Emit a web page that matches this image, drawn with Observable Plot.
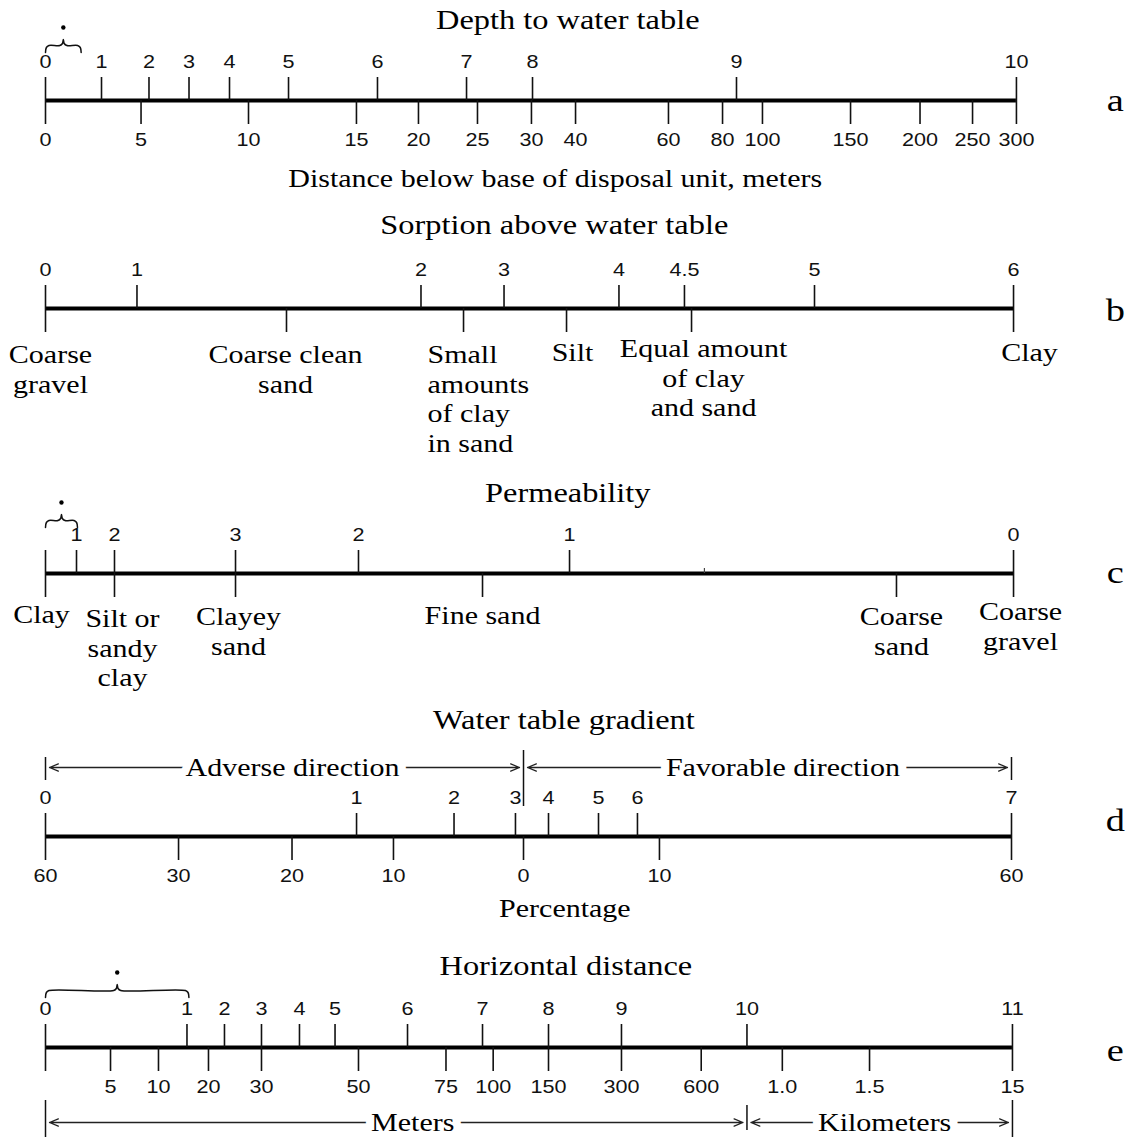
<!DOCTYPE html>
<html>
<head>
<meta charset="utf-8">
<script src="https://cdn.jsdelivr.net/npm/d3@7"></script>
<script src="https://cdn.jsdelivr.net/npm/@observablehq/plot@0.6"></script>
<style>
  html, body { margin: 0; padding: 0; background: #fff; }
  #chart svg { display: block; }
</style>
</head>
<body>
<div id="chart"></div>
<script>
// ---------------- DATA (positions read along each scale, 0 = left end, 100 = right end) ----------------
const panels = ["a", "b", "c", "d", "e"];
const titles = ["Depth to water table", "Sorption above water table", "Permeability", "Water table gradient", "Horizontal distance"];

// a: Depth to water table
const depthRatings = ["0", "1", "2", "3", "4", "5", "6", "7", "8", "9", "10"];
const depthRatingPos = [0, 5.78, 10.68, 14.81, 18.99, 25.08, 34.26, 43.45, 50.26, 71.31, 100.2];
const depthMeters = ["0", "5", "10", "15", "20", "25", "30", "40", "60", "80", "100", "150", "200", "250", "300"];
const depthMeterPos = [0, 9.86, 20.95, 32.09, 38.49, 44.58, 50.15, 54.7, 64.29, 69.87, 73.99, 83.08, 90.25, 95.67, 100.2];
const depthCaption = "Distance below base of disposal unit, meters";
const depthBrace = [0, 3.68];

// b: Sorption above water table
const sorptionRatings = ["0", "1", "2", "3", "4", "4.5", "5", "6"];
const sorptionRatingPos = [0, 9.44, 38.75, 47.32, 59.18, 65.94, 79.36, 99.9];
const sorptionMaterials = ["Coarse\ngravel", "Coarse clean\nsand", "Small\namounts\nof clay\nin sand", "Silt", "Equal amount\nof clay\nand sand", "Clay"];
const sorptionMaterialPos = [0, 24.87, 43.14, 53.77, 66.67, 99.9];

// c: Permeability
const permRatings = ["", "1", "2", "3", "2", "1", "0"];
const permRatingPos = [0, 3.2, 7.12, 19.61, 32.3, 54.08, 99.9];
const permMinorPos = [68.0];
const permMaterials = ["Clay", "Silt or\nsandy\nclay", "Clayey\nsand", "Fine sand", "Coarse\nsand", "Coarse\ngravel"];
const permMaterialPos = [0, 7.12, 19.61, 45.1, 87.82, 99.9];
const permBrace = [0, 3.3];

// d: Water table gradient
const gradientRatings = ["0", "1", "2", "3", "4", "5", "6", "7"];
const gradientRatingPos = [0, 32.1, 42.16, 48.5, 51.91, 57.07, 61.09, 99.69];
const gradientPercents = ["60", "30", "20", "10", "0", "10", "60"];
const gradientPercentPos = [0, 13.73, 25.44, 35.91, 49.33, 63.36, 99.69];
const gradientDirections = ["Adverse direction", "Favorable direction"];
const gradientSpans = [[0, 49.33], [49.33, 99.69]];
const gradientDirectionAt = [25.5, 76.1];
const gradientCaption = "Percentage";

// e: Horizontal distance
const distanceRatings = ["0", "1", "2", "3", "4", "5", "6", "7", "8", "9", "10", "11"];
const distanceRatingPos = [0, 14.6, 18.47, 22.29, 26.21, 29.88, 37.36, 45.1, 51.91, 59.44, 72.39, 99.79];
const distanceMarks = ["", "5", "10", "20", "30", "50", "75", "100", "150", "300", "600", "1.0", "1.5", "15"];
const distanceMarkPos = [0, 6.71, 11.66, 16.82, 22.29, 32.3, 41.33, 46.2, 51.91, 59.44, 67.67, 76.04, 85.04, 99.79];
const distanceUnits = ["Meters", "Kilometers"];
const distanceSpans = [[0, 72.39], [72.39, 99.79]];
const distanceUnitAt = [37.9, 86.6];
const distanceBrace = [0, 14.8];

// ---------------- LAYOUT & STYLE ----------------
const W = 1132, H = 1137;
const X0 = 45, X1 = 1014;              // pixel extent of the 0..100 scale
const pct = 100 / (X1 - X0);           // scale units per pixel (for small pixel nudges)
const SERIF = "Liberation Serif, Times New Roman, serif";
const SANS = "Liberation Sans, Arial, sans-serif";
const STRETCH = 1.2;                   // reference lettering is horizontally wide

const axisY = {a: 100, b: 308, c: 573, d: 836, e: 1047};
const titleY = {a: 20, b: 225, c: 493, d: 720, e: 966};
const titleX = {a: 53.9, b: 52.5, c: 53.9, d: 53.5, e: 53.7};
const letterY = {a: 100, b: 310, c: 572, d: 820, e: 1050};
const braceY = {a: 45, c: 520, e: 990};
const arrowY = {d: 767, e: 1122};
const materialTop = {b: 342, c: 603};
const captionY = {a: 178, d: 908};
const captionX = {a: 52.6, d: 53.6};
const TOP_TICK = 23, BOTTOM_TICK = 24, TOP_LABEL = 38, BOTTOM_LABEL = 40;
// label nudges [dx px, dy px, anchor]
const sorptionNudge = [[5, 0, "middle"], [-1, 0, "middle"], [-36, 0, "start"], [6, -2, "middle"], [12, -6, "middle"], [16, -2, "middle"]];
const permNudge = [[-4, -1, "middle"], [8, 3, "middle"], [3, 1, "middle"], [0, 0, "middle"], [5, 1, "middle"], [7, -4, "middle"]];

// ---------------- TABLES BUILT FROM THE ARRAYS ----------------
const topSets = {
  a: [depthRatings, depthRatingPos], b: [sorptionRatings, sorptionRatingPos],
  c: [permRatings, permRatingPos], d: [gradientRatings, gradientRatingPos],
  e: [distanceRatings, distanceRatingPos]
};
const topTicks = Object.entries(topSets).flatMap(([p, [labs, pos]]) => labs.map((label, i) => ({p, label, x: pos[i]})));

const numSets = {a: [depthMeters, depthMeterPos], d: [gradientPercents, gradientPercentPos], e: [distanceMarks, distanceMarkPos]};
const bottomNums = Object.entries(numSets).flatMap(([p, [labs, pos]]) => labs.map((label, i) => ({p, label, x: pos[i]})));

const matSets = {b: [sorptionMaterials, sorptionMaterialPos, sorptionNudge], c: [permMaterials, permMaterialPos, permNudge]};
const materials = Object.entries(matSets).flatMap(([p, [labs, pos, nudge]]) =>
  labs.map((label, i) => ({p, label, x: pos[i], dx: nudge[i][0], dy: nudge[i][1], anchor: nudge[i][2]})));

const bottomTicks = [...bottomNums, ...materials];
const axisEnd = {};
for (const p of panels) axisEnd[p] = d3.max(topTicks.filter(d => d.p === p), d => d.x);

// braces
const braces = [{p: "a", span: depthBrace}, {p: "c", span: permBrace}, {p: "e", span: distanceBrace}];
const bracePts = braces.flatMap(({p, span: [a, b]}) => {
  const y = braceY[p], e = 3.5 * pct, m = (a + b) / 2;
  return [[a, y + 7], [a + e * 0.25, y + 2], [a + e, y], [m - e, y], [m - e * 0.25, y - 2], [m, y - 6],
          [m + e * 0.25, y - 2], [m + e, y], [b - e, y], [b - e * 0.25, y + 2], [b, y + 7]].map(([x, yy]) => ({p, x, y: yy}));
});

// direction / unit arrows
const arrowSets = [
  {p: "d", names: gradientDirections, spans: gradientSpans, at: gradientDirectionAt},
  {p: "e", names: distanceUnits, spans: distanceSpans, at: distanceUnitAt}
];
const arrowLabels = arrowSets.flatMap(s => s.names.map((name, i) => ({p: s.p, name, x: s.at[i]})));
const arrows = arrowSets.flatMap(s => s.spans.flatMap((sp, i) => sp.map(end => ({p: s.p, from: s.at[i], to: end}))));
const barEnds = arrowSets.flatMap(s => {
  const xs = [s.spans[0][0], s.spans[0][1], s.spans[1][1]];
  return xs.map((x, i) => ({p: s.p, x, mid: i === 1}));
});
const barExtent = (d) => d.p === "d"
  ? (d.mid ? [arrowY.d - 17, arrowY.d + 39] : [arrowY.d - 10, arrowY.d + 13])
  : (d.mid ? [arrowY.e - 17, arrowY.e + 8] : [arrowY.e - 22, arrowY.e + 15]);

// ---------------- PLOT ----------------
const chart = Plot.plot({
  width: W, height: H,
  marginTop: 0, marginBottom: 0, marginLeft: 0, marginRight: 0,
  x: {domain: [0, 100], range: [X0, X1], axis: null},
  y: {domain: [0, H], range: [0, H], axis: null},
  style: {background: "#fff", color: "#000", overflow: "visible"},
  marks: [
    // main scale bars
    Plot.ruleY(panels, {y: p => axisY[p], x1: 0, x2: p => axisEnd[p], strokeWidth: 4, stroke: "#000"}),
    // upper ticks + labels
    Plot.ruleX(topTicks, {x: "x", y1: d => axisY[d.p] - TOP_TICK, y2: d => axisY[d.p], stroke: "#111", strokeWidth: 1.6}),
    Plot.ruleX(permMinorPos, {x: d => d, y1: axisY.c - 5, y2: axisY.c, stroke: "#444", strokeWidth: 1.2}),
    Plot.text(topTicks.filter(d => d.label), {x: "x", y: d => axisY[d.p] - TOP_LABEL, text: "label",
      fontFamily: SANS, fontSize: 18, fill: "#111"}),
    // lower ticks + labels
    Plot.ruleX(bottomTicks, {x: "x", y1: d => axisY[d.p], y2: d => axisY[d.p] + BOTTOM_TICK, stroke: "#111", strokeWidth: 1.6}),
    Plot.text(bottomNums.filter(d => d.label), {x: "x", y: d => axisY[d.p] + BOTTOM_LABEL, text: "label",
      fontFamily: SANS, fontSize: 18, fill: "#111"}),
    Plot.text(materials.filter(d => d.anchor === "middle"), {x: d => d.x + d.dx * pct, y: d => materialTop[d.p] + d.dy,
      text: "label", lineAnchor: "top", textAnchor: "middle", lineHeight: 1.18, fontFamily: SERIF, fontSize: 25, fill: "#000"}),
    Plot.text(materials.filter(d => d.anchor === "start"), {x: d => d.x + d.dx * pct, y: d => materialTop[d.p] + d.dy,
      text: "label", lineAnchor: "top", textAnchor: "start", lineHeight: 1.18, fontFamily: SERIF, fontSize: 25, fill: "#000"}),
    // titles, captions, panel letters
    Plot.text(panels, {x: p => titleX[p], y: p => titleY[p], text: (p, i) => titles[i], fontFamily: SERIF, fontSize: 27, fill: "#000"}),
    Plot.text([{p: "a", t: depthCaption}, {p: "d", t: gradientCaption}], {x: d => captionX[d.p], y: d => captionY[d.p], text: "t",
      fontFamily: SERIF, fontSize: 25, fill: "#000"}),
    Plot.text(panels, {x: 110.4, y: p => letterY[p], text: p => p, fontFamily: SERIF, fontSize: 32, fill: "#000"}),
    // braces with asterisk dot
    Plot.line(bracePts, {x: "x", y: "y", z: "p", curve: "catmull-rom", stroke: "#111", strokeWidth: 1.5}),
    Plot.dot(braces, {x: d => (d.span[0] + d.span[1]) / 2, y: d => braceY[d.p] - 18, r: 2.2, fill: "#000", stroke: null}),
    // direction / unit arrows
    Plot.ruleX(barEnds, {x: "x", y1: d => barExtent(d)[0], y2: d => barExtent(d)[1], stroke: "#111", strokeWidth: 1.5}),
    Plot.arrow(arrows, {x1: "from", x2: "to", y1: d => arrowY[d.p], y2: d => arrowY[d.p], insetEnd: 4,
      headLength: 11, headAngle: 45, stroke: "#222", strokeWidth: 1.3}),
    Plot.text(arrowLabels, {x: "x", y: d => arrowY[d.p], text: "name", fontFamily: SERIF, fontSize: 25,
      fill: "#000", stroke: "#fff", strokeWidth: 14})
  ]
});

// widen lettering horizontally about each label's anchor point
chart.querySelectorAll("text").forEach(t => {
  const tr = t.getAttribute("transform");
  if (tr) t.setAttribute("transform", tr + ` scale(${STRETCH},1)`);
  else {
    const x = +t.getAttribute("x") || 0, y = +t.getAttribute("y") || 0;
    t.removeAttribute("x"); t.removeAttribute("y");
    t.setAttribute("transform", `translate(${x},${y}) scale(${STRETCH},1)`);
  }
});
document.getElementById("chart").appendChild(chart);
</script>
</body>
</html>
